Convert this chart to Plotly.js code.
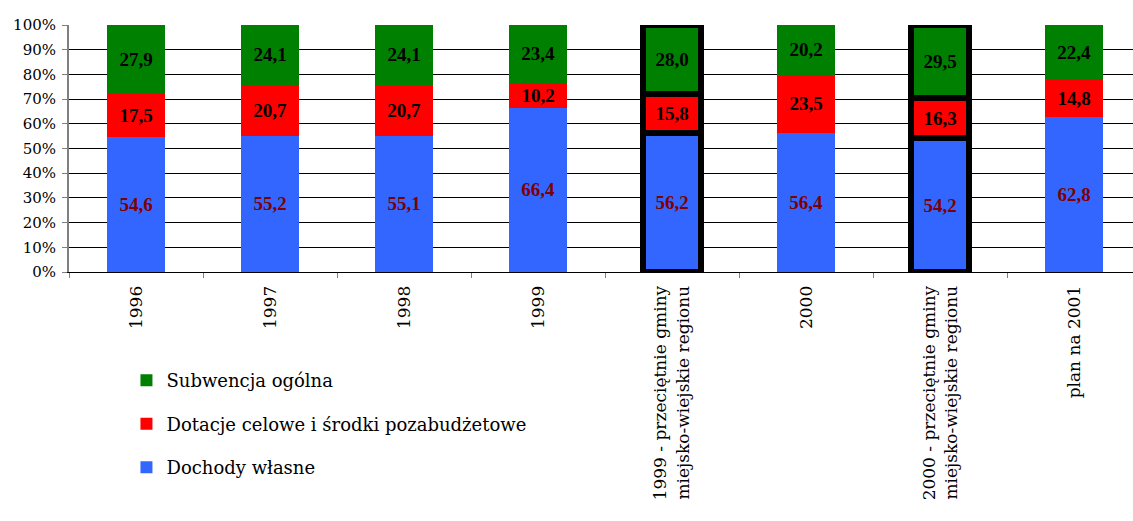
<!DOCTYPE html>
<html><head><meta charset="utf-8">
<script src="https://cdn.plot.ly/plotly-3.0.1.min.js"></script>
<style>body{margin:0;background:#fff}</style>
</head><body><div id="chart" style="width:1133px;height:521px"></div>
<script>
const categories = ["1996","1997","1998","1999","1999 - przeciętnie gminy<br>miejsko-wiejskie regionu","2000","2000 - przeciętnie gminy<br>miejsko-wiejskie regionu","plan na 2001"];
const dochodyWlasne = [54.6,55.2,55.1,66.4,56.2,56.4,54.2,62.8];
const dotacjeCelowe = [17.5,20.7,20.7,10.2,15.8,23.5,16.3,14.8];
const subwencjaOgolna = [27.9,24.1,24.1,23.4,28.0,20.2,29.5,22.4];
const highlighted = [false,false,false,false,true,false,true,false];
const seriesNames = ["Dochody własne","Dotacje celowe i środki pozabudżetowe","Subwencja ogólna"];

const fmt = v => v.toFixed(1).replace('.', ',');
const serifBold = "Liberation Serif";
const serif = "DejaVu Serif";
const borderW = highlighted.map(h => h ? 6 : 0);

function mk(vals, name, color, textColor, rank){
  return {
    type:'bar', x:categories, y:vals, name:name,
    marker:{color:color, line:{color:'#000', width:borderW}},
    text: vals.map(fmt), textposition:'inside', insidetextanchor:'middle',
    textangle:0, constraintext:'none',
    textfont:{family:serifBold, size:19, color:textColor, weight:'bold'},
    width:0.433, legendgroup:name, legendrank:rank, hoverinfo:'skip'
  };
}
const data = [
  mk(dochodyWlasne, seriesNames[0], '#3366FF', '#800000', 3),
  mk(dotacjeCelowe, seriesNames[1], '#FF0000', '#000000', 2),
  mk(subwencjaOgolna, seriesNames[2], '#008000', '#000000', 1)
];
const layout = {
  width:1133, height:521,
  margin:{l:69, r:0, t:25, b:249},
  barmode:'stack', barnorm:'percent',
  paper_bgcolor:'#fff', plot_bgcolor:'#fff',
  font:{family:serif, size:16, color:'#000'},
  xaxis:{type:'category', range:[-0.5, 7.44], tickangle:-90,
    ticks:'outside', tickson:'boundaries', ticklen:5, tickcolor:'#808080',
    ticklabelstandoff:6,
    showline:true, linecolor:'#000', linewidth:1, showgrid:false,
    tickfont:{family:serif, size:17, color:'#000'}},
  yaxis:{range:[0,100], dtick:10, ticksuffix:'%', showgrid:true, gridcolor:'#000', gridwidth:1,
    showline:true, linecolor:'#808080', linewidth:2, ticks:'outside', ticklen:5, tickcolor:'#808080',
    ticklabelstandoff:3,
    zeroline:false, tickfont:{family:serif, size:15, color:'#000'}},
  showlegend:true,
  legend:{x:0.054, xanchor:'left', y:-0.365, yanchor:'top', traceorder:'grouped',
    tracegroupgap:17, font:{family:serif, size:18, color:'#000'}, bgcolor:'rgba(0,0,0,0)'}
};
Plotly.newPlot('chart', data, layout, {displayModeBar:false, staticPlot:true});
</script></body></html>
